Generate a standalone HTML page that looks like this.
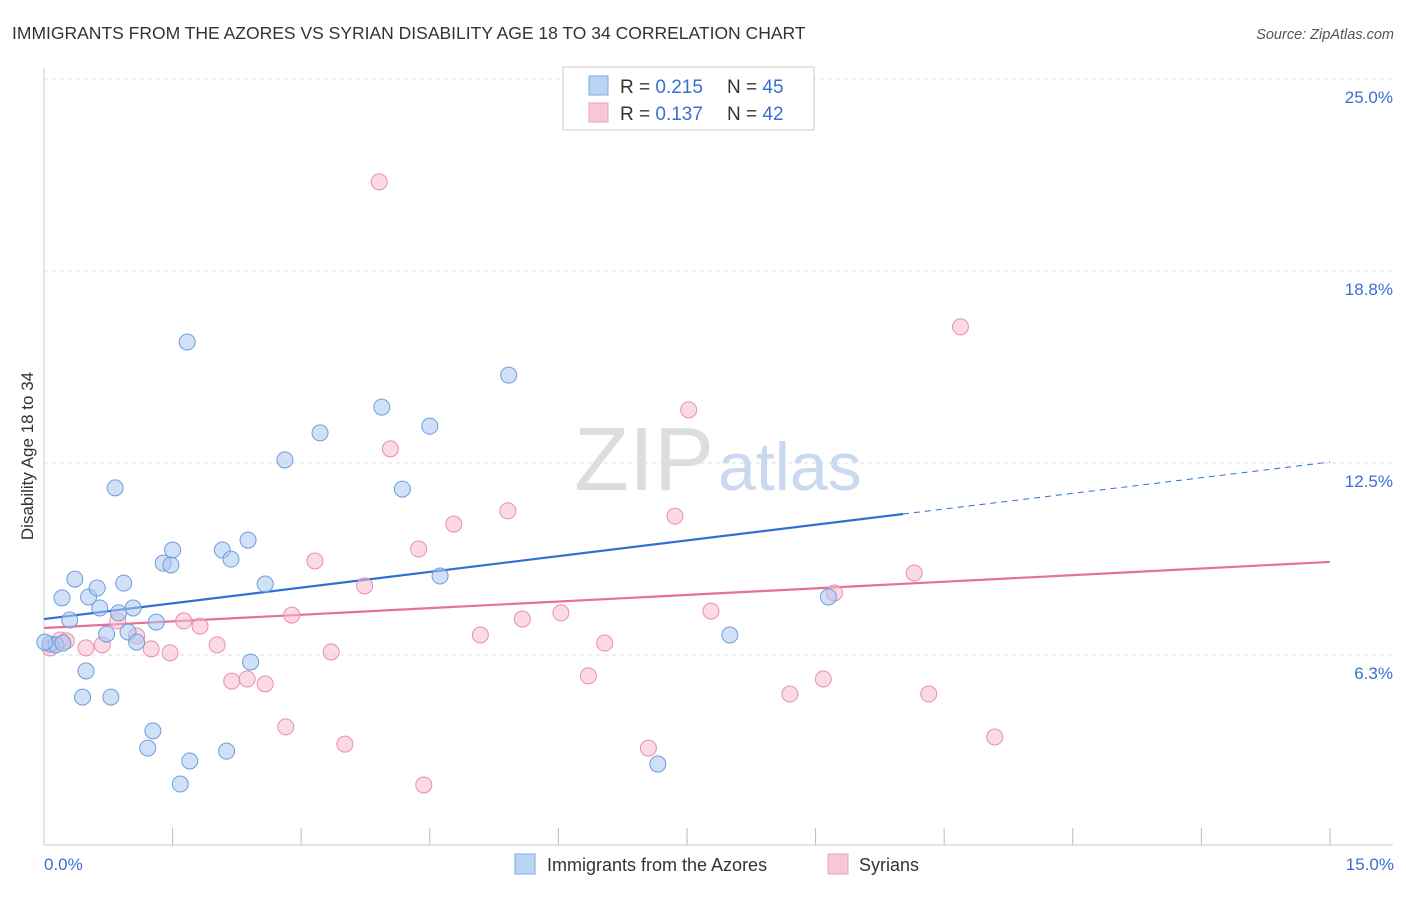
<!DOCTYPE html>
<html><head><meta charset="utf-8"><style>
body{margin:0;background:#fff;font-family:"Liberation Sans",sans-serif;}
svg text{font-family:"Liberation Sans",sans-serif;}
</style></head><body>
<svg width="1406" height="892" xmlns="http://www.w3.org/2000/svg">
<text x="12" y="39" font-size="17.5" fill="#333">IMMIGRANTS FROM THE AZORES VS SYRIAN DISABILITY AGE 18 TO 34 CORRELATION CHART</text>
<text x="1394" y="39" font-size="14.5" fill="#555" font-style="italic" text-anchor="end">Source: ZipAtlas.com</text>
<g id="grid"></g>
<text x="714" y="490" font-size="90" fill="#ddd" text-anchor="end" font-family="Liberation Serif">ZIP</text>
<text x="718" y="490" font-size="68" fill="#c9d9ee">atlas</text>
<line x1="44" y1="68" x2="44" y2="845" stroke="#ccc"/>
<line x1="44" y1="845" x2="1393" y2="845" stroke="#ccc"/>
<text transform="translate(33,456) rotate(-90)" font-size="17" fill="#333" text-anchor="middle">Disability Age 18 to 34</text>
<text x="44" y="870" font-size="17" fill="#3a6fd0">0.0%</text>
<text x="1394" y="870" font-size="17" fill="#3a6fd0" text-anchor="end">15.0%</text>
<g id="lines"></g><g id="pts"></g>
<g>
<rect x="563" y="67" width="251" height="63" fill="#fff" stroke="#ccc"/>
<rect x="589" y="76" width="19" height="19" fill="#b9d3f5" stroke="#7fa8e3"/>
<rect x="589" y="103" width="19" height="19" fill="#f9c8d8" stroke="#eca0b9"/>
<text x="620" y="93" font-size="19" fill="#333">R = <tspan fill="#3a6fd0">0.215</tspan></text>
<text x="727" y="93" font-size="19" fill="#333">N = <tspan fill="#3a6fd0">45</tspan></text>
<text x="620" y="120" font-size="19" fill="#333">R = <tspan fill="#3a6fd0">0.137</tspan></text>
<text x="727" y="120" font-size="19" fill="#333">N = <tspan fill="#3a6fd0">42</tspan></text>
</g>
<g>
<rect x="515" y="854" width="20" height="20" fill="#b9d3f5" stroke="#7fa8e3"/>
<text x="547" y="871" font-size="18" fill="#333">Immigrants from the Azores</text>
<rect x="828" y="854" width="20" height="20" fill="#f9c8d8" stroke="#eca0b9"/>
<text x="859" y="871" font-size="18" fill="#333">Syrians</text>
</g>
</svg>
<script>
const yTicks=[25.0,18.8,12.5,6.3];
const yTickVals=[25,18.75,12.5,6.25];
const xTicks=[0,1.5,3,4.5,6,7.5,9,10.5,12,13.5,15];
const blueX=[0.07,0.14,0.22,0.21,0.30,0.36,0.49,0.45,0.52,0.62,0.65,0.73,0.78,0.83,0.87,0.93,0.98,1.04,1.08,1.27,1.21,1.31,1.39,1.48,1.50,1.67,1.59,1.70,2.08,2.13,2.18,2.38,2.41,2.58,2.81,3.22,3.94,4.18,4.50,4.62,5.42,7.16,8.00,9.15,0.01];
const blueY=[6.61,6.58,6.64,8.11,7.39,8.72,5.73,4.88,8.14,8.43,7.78,6.93,4.88,11.69,7.62,8.59,7.00,7.78,6.67,3.78,3.22,7.32,9.24,9.18,9.67,16.44,2.05,2.80,9.67,3.12,9.37,9.99,6.02,8.56,12.60,13.48,14.32,11.65,13.70,8.82,15.36,2.70,6.90,8.14,6.67];
const pinkX=[0.07,0.19,0.26,0.49,0.68,0.86,1.08,1.25,1.47,1.63,1.82,2.02,2.19,2.37,2.58,2.82,2.89,3.16,3.35,3.51,3.74,3.91,4.04,4.37,4.43,4.78,5.09,5.41,5.58,6.03,6.35,6.54,7.05,7.36,7.52,7.78,8.70,9.09,9.22,10.15,10.32,10.69,11.09];
const pinkY=[6.48,6.74,6.71,6.48,6.58,7.36,6.87,6.45,6.32,7.36,7.19,6.58,5.40,5.47,5.31,3.91,7.55,9.31,6.35,3.35,8.50,21.65,12.96,9.70,2.02,10.51,6.90,10.94,7.42,7.62,5.57,6.64,3.22,10.77,14.23,7.68,4.98,5.47,8.27,8.92,4.98,16.93,3.58];
const blueTrend=[[0,7.42],[10.02,10.84],[15,12.53]];
const pinkTrend=[[0,7.13],[15,9.28]];
const NS="http://www.w3.org/2000/svg";
const sx=v=>44+v*85.73, sy=v=>79+(25-v)*30.72;
function mk(t,a,p){const e=document.createElementNS(NS,t);for(const k in a)e.setAttribute(k,a[k]);document.getElementById(p).appendChild(e);return e;}
yTickVals.forEach((v,i)=>{
 const g=mk('line',{x1:44,x2:1393,y1:sy(v),y2:sy(v),stroke:'#ddd','stroke-dasharray':'4,4'},'grid');
 
 
 const t=mk('text',{x:1393,y:sy(v)+24,'font-size':17,fill:'#3a6fd0','text-anchor':'end'},'grid');
 t.textContent=yTicks[i].toFixed(1)+'%';
 
 
});
xTicks.forEach(v=>{
 const l=mk('line',{x1:sx(v),x2:sx(v),y1:828,y2:845,stroke:'#bbb'},'grid');
 
 
});
function trend(tr,col,dashIdx){
 for(let i=0;i<tr.length-1;i++){
  const l=mk('line',{x1:sx(tr[i][0]),y1:sy(tr[i][1]),x2:sx(tr[i+1][0]),y2:sy(tr[i+1][1]),stroke:col,'stroke-width':i===dashIdx?1:2.2},'lines');
  if(i===dashIdx)l.setAttribute('stroke-dasharray','6,5');
  
  
 }
}
function pts(xs,ys,f,s,name){
 xs.forEach((x,i)=>{
  const c=mk('circle',{cx:sx(x),cy:sy(ys[i]),r:8,fill:f,'fill-opacity':0.55,stroke:s,'stroke-width':1},'pts');
  
  
 });
}
pts(pinkX,pinkY,'#f7bcd0','#e98eac','syrians-point');
pts(blueX,blueY,'#a9c8f0','#6f9cdc','azores-point');
trend(blueTrend,'#2f6fd6',1);
trend(pinkTrend,'#e5709a',-1);
</script>
</body></html>
